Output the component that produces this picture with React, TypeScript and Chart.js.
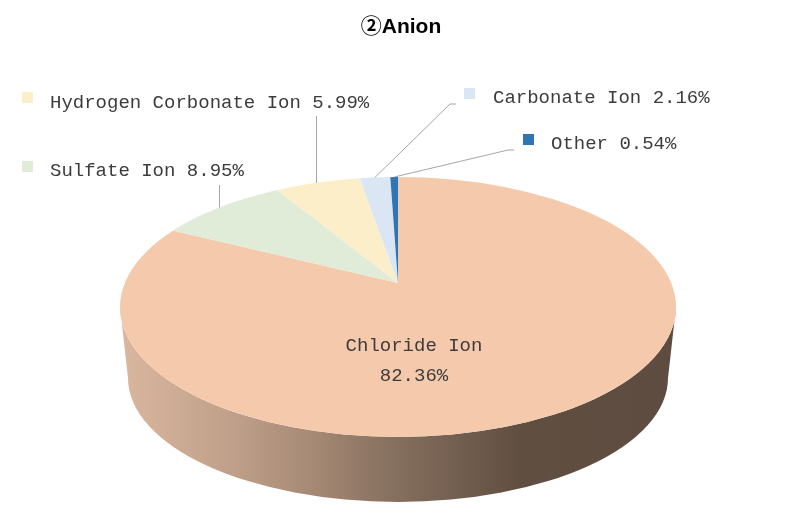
import { useEffect, useRef } from 'react';
import { Chart, ChartConfiguration, Plugin, registerables } from 'chart.js';

Chart.register(...registerables);

const titleText = '②Anion';
const categories = ['Chloride Ion', 'Sulfate Ion', 'Hydrogen Corbonate Ion', 'Carbonate Ion', 'Other'];
const shares = [82.36, 8.95, 5.99, 2.16, 0.54];
const sliceColors = ['#F5CAAC', '#E0ECD8', '#FBEEC9', '#DAE6F3', '#2E75B6'];

// outer labels: text start, swatch corner and the elbow of the leader line
const outerLabels = [
  null,
  { x: 50, y: 171, sx: 22, sy: 161, drop: true, leader: [[219, 185]] },
  { x: 50, y: 103, sx: 22, sy: 92, drop: true, leader: [[316, 116]] },
  { x: 493, y: 98, sx: 464, sy: 88, drop: false, leader: [[450, 104], [456, 104]] },
  { x: 551, y: 144, sx: 523, sy: 134, drop: false, leader: [[508, 150], [514, 150]] },
];

// top face and bottom rim of the disc
const top = { cx: 398, cy: 307, rx: 278, ry: 130 };
const rim = { cx: 398, cy: 378, rx: 270, ry: 124 };
const tilt = 0.4676;

const labelFont = '19px "Liberation Mono"';
const labelColor = '#3c3c3c';

const disc3d: Plugin<'pie'> = {
  id: 'disc3d',
  beforeDatasetsDraw(chart) {
    const ctx = chart.ctx;
    const wall = ctx.createLinearGradient(top.cx - top.rx, 0, top.cx + top.rx, 0);
    wall.addColorStop(0, '#DAB79F');
    wall.addColorStop(0.2, '#C0A08A');
    wall.addColorStop(0.33, '#A98C77');
    wall.addColorStop(0.49, '#86705F');
    wall.addColorStop(0.72, '#604E41');
    wall.addColorStop(1, '#5E4C40');
    ctx.save();
    ctx.beginPath();
    ctx.ellipse(top.cx, top.cy, top.rx, top.ry, 0, Math.PI, 0, true);
    ctx.ellipse(rim.cx, rim.cy, rim.rx, rim.ry, 0, 0, Math.PI, false);
    ctx.closePath();
    ctx.fillStyle = wall;
    ctx.fill();
    ctx.restore();
  },
  beforeDatasetDraw(chart, args) {
    // slices fan out from the apex, squashed by the tilt and cut to the top face
    const ctx = chart.ctx;
    const { x, y } = args.meta.data[0] as any;
    ctx.save();
    ctx.beginPath();
    ctx.ellipse(top.cx, top.cy, top.rx, top.ry, 0, 0, Math.PI * 2);
    ctx.clip();
    ctx.translate(x, y);
    ctx.scale(1, tilt);
    ctx.translate(-x, -y);
  },
  afterDatasetDraw(chart) {
    chart.ctx.restore();
  },
  afterDatasetsDraw(chart) {
    const ctx = chart.ctx;
    const arcs = chart.getDatasetMeta(0).data as any[];
    ctx.save();
    ctx.textBaseline = 'middle';

    ctx.font = 'bold 21px "Liberation Sans", "Noto Sans CJK KR"';
    ctx.fillStyle = '#000';
    ctx.textAlign = 'center';
    ctx.fillText(titleText, 401, 27);

    ctx.font = labelFont;
    categories.forEach((name, i) => {
      const place = outerLabels[i];
      const text = `${name} ${shares[i].toFixed(2)}%`;
      if (!place) {
        ctx.fillStyle = labelColor;
        ctx.textAlign = 'center';
        ctx.fillText(name, 414, 346);
        ctx.fillText(`${shares[i].toFixed(2)}%`, 414, 376);
        return;
      }

      // where the slice's middle meets the edge of the top face
      const mid = (arcs[i].startAngle + arcs[i].endAngle) / 2;
      const dx = Math.cos(mid);
      const dy = Math.sin(mid) * tilt;
      const ox = (arcs[i].x - top.cx) / top.rx;
      const oy = (arcs[i].y - top.cy) / top.ry;
      const a = (dx / top.rx) ** 2 + (dy / top.ry) ** 2;
      const b = (ox * dx) / top.rx + (oy * dy) / top.ry;
      const c = ox * ox + oy * oy - 1;
      const t = (-b + Math.sqrt(b * b - a * c)) / a;
      let startX = arcs[i].x + t * dx;
      let startY = arcs[i].y + t * dy;

      // these two leaders drop straight down onto the edge
      if (place.drop) {
        startX = place.leader[0][0];
        startY = top.cy - top.ry * Math.sqrt(1 - ((startX - top.cx) / top.rx) ** 2);
      }

      ctx.beginPath();
      ctx.moveTo(startX, startY);
      place.leader.forEach(([lx, ly]) => ctx.lineTo(lx + (place.drop ? 0.5 : 0), ly));
      ctx.strokeStyle = '#A6A6A6';
      ctx.lineWidth = 1;
      if (place.drop) {
        ctx.beginPath();
        ctx.moveTo(startX + 0.5, startY);
        ctx.lineTo(startX + 0.5, place.leader[0][1]);
      }
      ctx.stroke();

      ctx.fillStyle = sliceColors[i];
      ctx.fillRect(place.sx, place.sy, 11, 11);

      ctx.fillStyle = labelColor;
      ctx.textAlign = 'left';
      ctx.fillText(text, place.x, place.y);
    });
    ctx.restore();
  },
};

const App = () => {
  const chartRef = useRef<HTMLCanvasElement>(null);

  useEffect(() => {
    if (!chartRef.current) return;

    const config: ChartConfiguration<'pie', number[], string> = {
      type: 'pie',
      data: {
        labels: categories,
        datasets: [{
          data: shares,
          backgroundColor: sliceColors,
          borderWidth: 0,
          clip: false,
        } as any],
      },
      options: {
        responsive: false,
        animation: false,
        radius: 345,
        layout: { padding: { left: 5, top: 45 } },
        plugins: {
          legend: { display: false },
          tooltip: { enabled: false },
        },
      },
      plugins: [disc3d],
    };

    const chart = new Chart(chartRef.current, config);
    return () => chart.destroy();
  }, []);

  return (
    <div style={{ position: 'absolute', left: 0, top: 0, width: 791, height: 521, background: '#fff' }}>
      <canvas ref={chartRef} width={791} height={521} style={{ display: 'block' }}></canvas>
    </div>
  );
};

export default App;
